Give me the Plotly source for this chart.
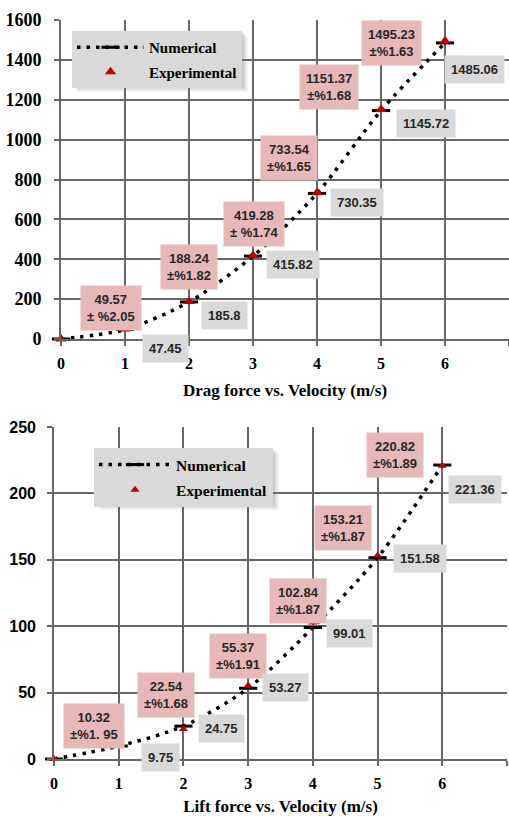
import plotly.graph_objects as go

# ---------------- data ----------------
velocity = [0, 1, 2, 3, 4, 5, 6]

drag_numerical = [0, 47.45, 185.8, 415.82, 730.35, 1145.72, 1485.06]
drag_experimental = [0, 49.57, 188.24, 419.28, 733.54, 1151.37, 1495.23]
drag_uncertainty = ["", "± %2.05", "±%1.82", "± %1.74", "±%1.65", "±%1.68", "±%1.63"]

lift_numerical = [0, 9.75, 24.75, 53.27, 99.01, 151.58, 221.36]
lift_experimental = [0, 10.32, 22.54, 55.37, 102.84, 153.21, 220.82]
lift_uncertainty = ["", "±%1. 95", "±%1.68", "±%1.91", "±%1.87", "±%1.87", "±%1.89"]

x_ticks = [0, 1, 2, 3, 4, 5, 6, 7]
drag_ticks = [0, 200, 400, 600, 800, 1000, 1200, 1400, 1600]
lift_ticks = [0, 50, 100, 150, 200, 250]

drag_title = "Drag force vs. Velocity (m/s)"
lift_title = "Lift force vs. Velocity (m/s)"

# ---------------- styles ----------------
W, H = 509, 816
SERIF = "Liberation Serif, Times New Roman, serif"
SANS = "Liberation Sans, Arial, sans-serif"
GRID = "#666666"
PINK = "#e6b9b8"
GRAY_BOX = "#d9d9d9"
RED = "#c00000"
TEXT = "#262626"

# label box offsets in pixels (dx right, dy down) from their data points, index 1..6
drag_exp_off = [(-14, -21), (0, -34), (1, -31), (-28, -35), (-52, -22), (-54, 2)]
drag_num_off = [(40, 19), (35, 14), (40, 8), (40, 9), (45, 13), (29, 27)]
lift_exp_off = [(-25, -19), (-17, -34), (-10, -29), (-15, -21), (-35, -28), (-47, -11)]
lift_num_off = [(42, 11), (38, 2), (37, -1), (37, 6), (42, 1), (33, 24)]

# legend boxes (pixels): left, top, right, bottom  -> used for the drop shadow
top_legend_box = (72, 31, 242, 86)
bot_legend_box = (94, 448, 273, 504)

fig = go.Figure()

def add_series(xref, yref, num, exp, legend, msize):
    fig.add_trace(go.Scatter(
        x=velocity, y=num, name="Numerical", mode="lines+markers",
        xaxis=xref, yaxis=yref, legend=legend, legendgroup=legend + "n",
        line=dict(color="black", width=3.5, dash="3.5px,6px", shape="spline", smoothing=0.8),
        marker=dict(symbol="line-ew", size=13, line=dict(color="black", width=3)),
        cliponaxis=False,
    ))
    fig.add_trace(go.Scatter(
        x=velocity, y=exp, name="Experimental", mode="markers",
        xaxis=xref, yaxis=yref, legend=legend, legendgroup=legend + "e",
        marker=dict(symbol="triangle-up", size=msize, color=RED),
        cliponaxis=False,
    ))

add_series("x", "y", drag_numerical, drag_experimental, "legend", 10)
add_series("x2", "y2", lift_numerical, lift_experimental, "legend2", 8)

def add_labels(xref, yref, num, exp, unc, exp_off, num_off):
    for i in range(1, len(velocity)):
        dx, dy = exp_off[i - 1]
        fig.add_annotation(
            x=velocity[i], y=exp[i], xref=xref, yref=yref,
            text=f"{exp[i]:.2f}<br>{unc[i]}", showarrow=False,
            xanchor="center", yanchor="middle", xshift=dx, yshift=-dy,
            bgcolor=PINK, borderpad=6, align="center",
            font=dict(family=SANS, size=13, color=TEXT, weight="bold"),
        )
        dx, dy = num_off[i - 1]
        fig.add_annotation(
            x=velocity[i], y=num[i], xref=xref, yref=yref,
            text=f"{num[i]:g}", showarrow=False,
            xanchor="center", yanchor="middle", xshift=dx, yshift=-dy,
            bgcolor=GRAY_BOX, borderpad=6,
            font=dict(family=SANS, size=13, color=TEXT, weight="bold"),
        )

add_labels("x", "y", drag_numerical, drag_experimental, drag_uncertainty, drag_exp_off, drag_num_off)
add_labels("x2", "y2", lift_numerical, lift_experimental, lift_uncertainty, lift_exp_off, lift_num_off)

# soft drop shadow behind the legends
for (l, t, r, b) in (top_legend_box, bot_legend_box):
    for k, op in ((6, 0.10), (4, 0.16), (2, 0.22)):
        fig.add_shape(type="rect", xref="paper", yref="paper", layer="above",
                      x0=(l + k) / W, x1=(r + k) / W, y0=1 - (b + k) / H, y1=1 - (t + k) / H,
                      fillcolor="#7f7f7f", opacity=op, line=dict(width=0))

axis_common = dict(
    showgrid=True, gridcolor=GRID, gridwidth=1.6,
    zeroline=False, showline=True, linecolor=GRID, linewidth=1.6,
    ticks="outside", ticklen=5, tickcolor=GRID, tickwidth=1.6,
    automargin=False,
)

top_y0, top_y1 = 20, 339
bot_y0, bot_y1 = 427, 759

fig.update_layout(
    width=W, height=H,
    margin=dict(l=0, r=0, t=0, b=0),
    paper_bgcolor="white", plot_bgcolor="white",
    showlegend=True,
    xaxis=dict(
        domain=[61 / W, 1.0], range=[0, 7], tickvals=x_ticks, anchor="y",
        tickfont=dict(family=SERIF, size=16, color="black", weight="bold"),
        ticklabelstandoff=4,
        title=dict(text=drag_title, standoff=13,
                   font=dict(family=SERIF, size=17, color="black", weight="bold")),
        **axis_common,
    ),
    yaxis=dict(
        domain=[1 - top_y1 / H, 1 - top_y0 / H], range=[0, 1600], tickvals=drag_ticks, anchor="x",
        tickfont=dict(family=SERIF, size=18, color="black", weight="bold"),
        ticklabelstandoff=9,
        **axis_common,
    ),
    xaxis2=dict(
        domain=[54 / W, 507 / W], range=[0, 7], tickvals=x_ticks, anchor="y2",
        tickfont=dict(family=SERIF, size=16, color="black", weight="bold"),
        ticklabelstandoff=4,
        title=dict(text=lift_title, standoff=10,
                   font=dict(family=SERIF, size=17, color="black", weight="bold")),
        **axis_common,
    ),
    yaxis2=dict(
        domain=[1 - bot_y1 / H, 1 - bot_y0 / H], range=[0, 250], tickvals=lift_ticks, anchor="x2",
        tickfont=dict(family=SANS, size=16, color="black", weight="bold"),
        ticklabelstandoff=8,
        **axis_common,
    ),
    legend=dict(
        x=top_legend_box[0] / W, y=1 - top_legend_box[1] / H, xanchor="left", yanchor="top",
        bgcolor=GRAY_BOX, itemwidth=67, tracegroupgap=2,
        font=dict(family=SERIF, size=15, color="black", weight="bold"),
    ),
    legend2=dict(
        x=bot_legend_box[0] / W, y=1 - bot_legend_box[1] / H, xanchor="left", yanchor="top",
        bgcolor=GRAY_BOX, itemwidth=72, tracegroupgap=2,
        font=dict(family=SERIF, size=15.5, color="black", weight="bold"),
    ),
)

fig.write_html("out.html")
